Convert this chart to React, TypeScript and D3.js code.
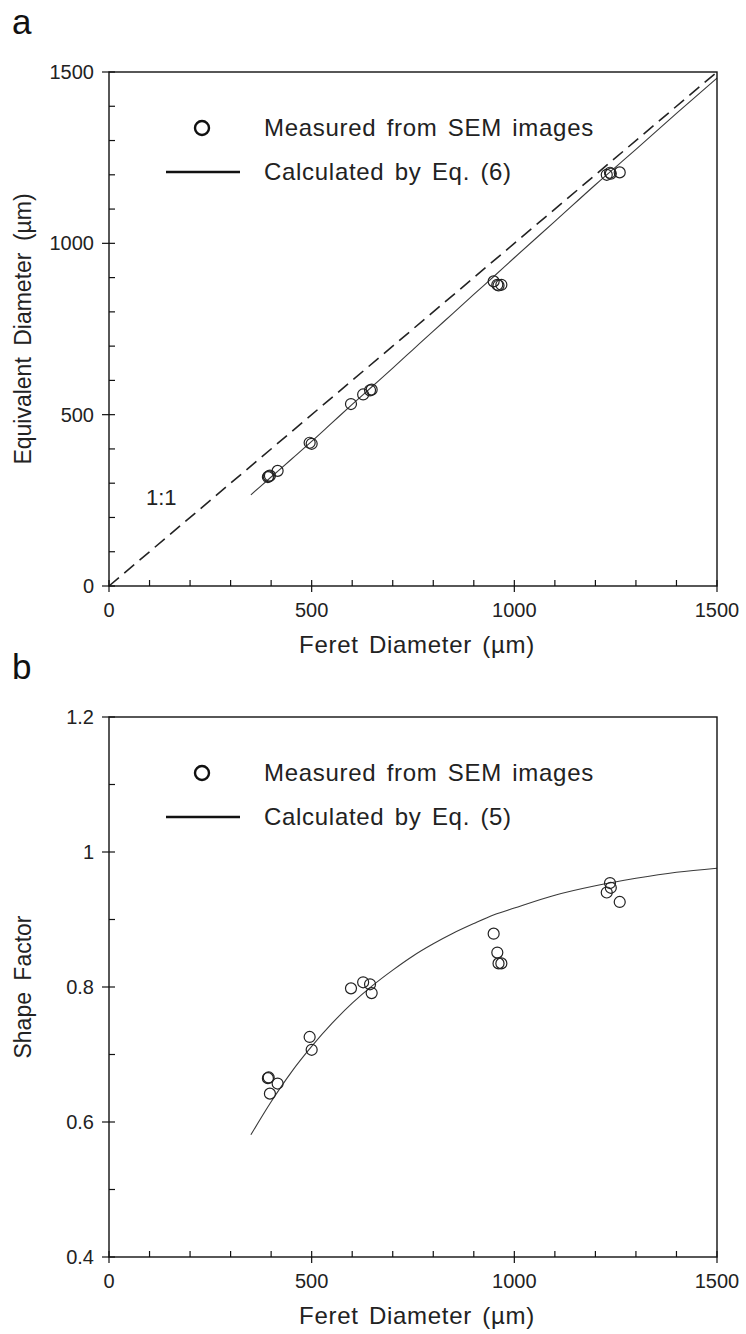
import React from 'react';
import * as d3 from 'd3';

// measured points
const feret = [392, 394, 397, 416, 495, 500, 597, 627, 644, 648, 949, 958, 961, 968, 1228, 1236, 1238, 1260];
const equivDiameter = [318, 320, 322, 336, 418, 415, 531, 559, 571, 573, 889, 879, 877, 879, 1200, 1206, 1203, 1207];
const shapeFactor = [0.665, 0.666, 0.642, 0.657, 0.726, 0.707, 0.798, 0.807, 0.804, 0.791, 0.879, 0.851, 0.835, 0.835, 0.94, 0.954, 0.947, 0.926];

// calculated curves
const curveX = [350, 400, 450, 500, 550, 600, 650, 700, 750, 800, 850, 900, 950, 1000, 1100, 1200, 1300, 1400, 1500];
const curveEq6 = [266, 318, 370, 422, 476, 530, 583, 636, 690, 744, 797, 851, 904, 958, 1064, 1171, 1274, 1379, 1482];
const curveEq5 = [0.581, 0.63, 0.674, 0.712, 0.746, 0.776, 0.802, 0.825, 0.846, 0.864, 0.88, 0.894, 0.907, 0.917, 0.936, 0.95, 0.961, 0.97, 0.976];

const xTicks = [0, 500, 1000, 1500];
const yTicksA = [0, 500, 1000, 1500];
const yTicksB = [0.4, 0.6, 0.8, 1.0, 1.2];

const FONT = 'Liberation Sans, Arial, sans-serif';
const labelStyle = { wordSpacing: 3, letterSpacing: 0.7 };

type PanelProps = {
  letter: string;
  top: number;
  bottom: number;
  yDomain: [number, number];
  yTicks: number[];
  yMinorStep: number;
  yFormat: (v: number) => string;
  yTitle: string;
  ys: number[];
  curveY: number[];
  legendLabel: string;
  showOneToOne?: boolean;
};

const left = 109;
const right = 717;

function Panel(p: PanelProps) {
  const x = d3.scaleLinear().domain([0, 1500]).range([left, right]);
  const y = d3.scaleLinear().domain(p.yDomain).range([p.bottom, p.top]);
  const xMinor = d3.range(0, 1501, 100);
  const yMinor = d3.range(p.yDomain[0], p.yDomain[1] + 1e-9, p.yMinorStep);
  const line = d3.line<number>().x((_, i) => x(curveX[i])).y((d) => y(d)).curve(d3.curveMonotoneX);
  const legendY1 = p.top + 56;
  const legendY2 = p.top + 100;
  return (
    <g>
      <text x={12} y={p.top - 38} fontSize={35} fontFamily={FONT} fill="#111">{p.letter}</text>
      {p.showOneToOne && (
        <line x1={x(0)} y1={y(0)} x2={x(1500)} y2={y(1500)} stroke="#222" strokeWidth={1.6} strokeDasharray="13,7" />
      )}
      <path d={line(p.curveY) || ''} fill="none" stroke="#3a3a3a" strokeWidth={1.1} />
      {feret.map((f, i) => (
        <circle key={i} cx={x(f)} cy={y(p.ys[i])} r={5.5} fill="none" stroke="#222" strokeWidth={1.2} />
      ))}
      <rect x={left} y={p.top} width={right - left} height={p.bottom - p.top} fill="none" stroke="#111" strokeWidth={1.4} />
      {xMinor.map((t) => (
        <line key={'xm' + t} x1={x(t)} x2={x(t)} y1={p.bottom} y2={p.bottom - 6} stroke="#111" strokeWidth={1.2} />
      ))}
      {xTicks.map((t) => (
        <g key={'x' + t}>
          <line x1={x(t)} x2={x(t)} y1={p.bottom} y2={p.bottom + 6} stroke="#111" strokeWidth={1.2} />
          <text x={x(t)} y={p.bottom + 31} textAnchor="middle" fontSize={20} fontFamily={FONT} fill="#222">{t}</text>
        </g>
      ))}
      {yMinor.map((t) => (
        <line key={'ym' + t} x1={left} x2={left + 6} y1={y(t)} y2={y(t)} stroke="#111" strokeWidth={1.2} />
      ))}
      {p.yTicks.map((t) => (
        <g key={'y' + t}>
          <line x1={left - 7} x2={left} y1={y(t)} y2={y(t)} stroke="#111" strokeWidth={1.2} />
          <text x={left - 15} y={y(t) + 7} textAnchor="end" fontSize={20} fontFamily={FONT} fill="#222">{p.yFormat(t)}</text>
        </g>
      ))}
      <text x={(left + right) / 2 + 4} y={p.bottom + 67} textAnchor="middle" fontSize={24} fontFamily={FONT} fill="#222" style={labelStyle}>
        Feret Diameter (µm)
      </text>
      <text transform={`translate(31,${(p.top + p.bottom) / 2}) rotate(-90)`} textAnchor="middle" fontSize={23} fontFamily={FONT} fill="#222" style={{ wordSpacing: 5 }}>
        {p.yTitle}
      </text>
      <circle cx={202} cy={legendY1} r={7} fill="none" stroke="#111" strokeWidth={2.4} />
      <text x={264} y={legendY1 + 8} fontSize={24} fontFamily={FONT} fill="#222" style={labelStyle}>Measured from SEM images</text>
      <line x1={166} x2={240} y1={legendY2} y2={legendY2} stroke="#111" strokeWidth={2.6} />
      <text x={264} y={legendY2 + 8} fontSize={24} fontFamily={FONT} fill="#222" style={labelStyle}>{p.legendLabel}</text>
      {p.showOneToOne && (
        <text x={146} y={505} fontSize={22} fontFamily={FONT} fill="#222">1:1</text>
      )}
    </g>
  );
}

export default function App() {
  return (
    <svg width={746} height={1334} style={{ position: 'absolute', left: 0, top: 0, background: '#fff' }}>
      <rect width={746} height={1334} fill="#fff" />
      <Panel
        letter="a"
        top={72}
        bottom={586}
        yDomain={[0, 1500]}
        yTicks={yTicksA}
        yMinorStep={100}
        yFormat={(v) => String(v)}
        yTitle="Equivalent Diameter (µm)"
        ys={equivDiameter}
        curveY={curveEq6}
        legendLabel="Calculated by Eq. (6)"
        showOneToOne
      />
      <Panel
        letter="b"
        top={717}
        bottom={1257}
        yDomain={[0.4, 1.2]}
        yTicks={yTicksB}
        yMinorStep={0.1}
        yFormat={(v) => (v === 1 ? '1' : String(v))}
        yTitle="Shape Factor"
        ys={shapeFactor}
        curveY={curveEq5}
        legendLabel="Calculated by Eq. (5)"
      />
    </svg>
  );
}
